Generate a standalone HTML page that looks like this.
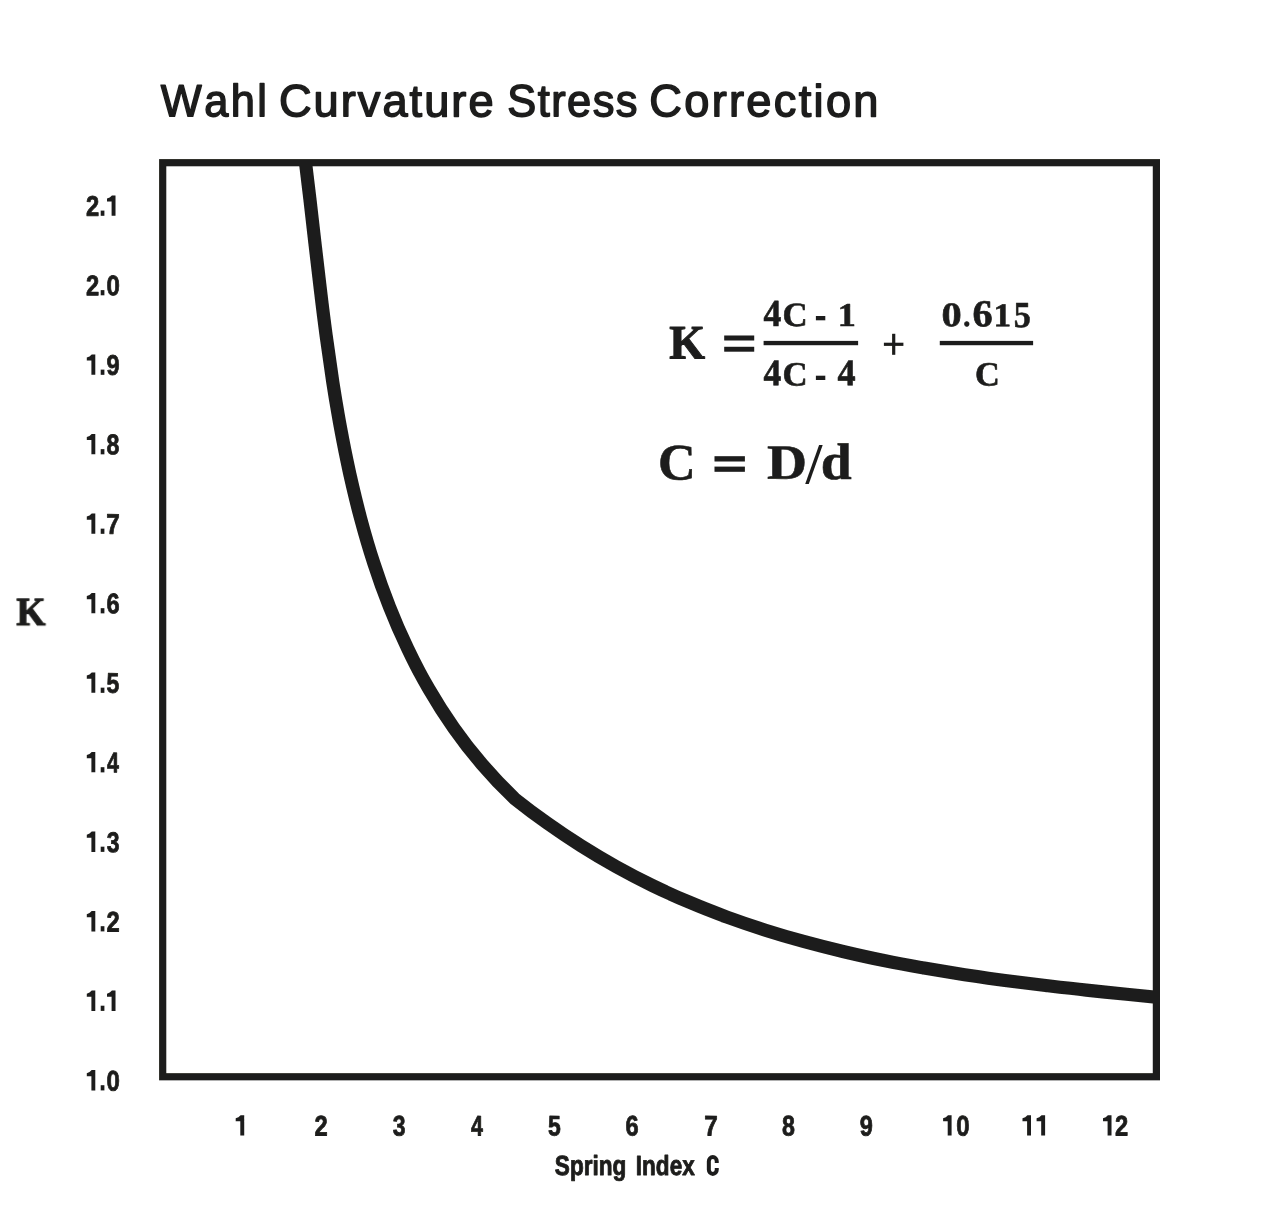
<!DOCTYPE html>
<html lang="en">
<head>
<meta charset="utf-8">
<title>Wahl Curvature Stress Correction</title>
<style>
  html, body { margin: 0; padding: 0; background: #ffffff; }
  body { width: 1280px; height: 1212px; overflow: hidden; font-family: "Liberation Sans", sans-serif; }
  svg { display: block; position: absolute; left: 0; top: 0; will-change: transform; }
  text { fill: #1d1d1b; font-kerning: none; white-space: pre; text-rendering: geometricPrecision; }
</style>
</head>
<body>
<svg width="1280" height="1212" viewBox="0 0 1280 1212">
<rect x="0" y="0" width="1280" height="1212" fill="#ffffff"/>
<defs><filter id="soft" x="0" y="0" width="1280" height="1212" filterUnits="userSpaceOnUse"><feGaussianBlur stdDeviation="0.65"/></filter></defs>
<g filter="url(#soft)">
<text transform="translate(160.73 116.25) matrix(1 0.001 0 1 0 0) scale(0.9600 1)" font-family="'Liberation Sans', sans-serif" font-weight="normal" font-size="45.20" stroke="#1d1d1b" stroke-width="1.50" stroke-linejoin="round" letter-spacing="2.56">Wahl</text>
<text transform="translate(278.95 116.25) matrix(1 0.001 0 1 0 0) scale(1.0000 1)" font-family="'Liberation Sans', sans-serif" font-weight="normal" font-size="45.20" stroke="#1d1d1b" stroke-width="1.50" stroke-linejoin="round" letter-spacing="2.02">Curvature</text>
<text transform="translate(507.35 116.25) matrix(1 0.001 0 1 0 0) scale(0.9600 1)" font-family="'Liberation Sans', sans-serif" font-weight="normal" font-size="45.20" stroke="#1d1d1b" stroke-width="1.50" stroke-linejoin="round" letter-spacing="1.50">Stress</text>
<text transform="translate(649.25 116.25) matrix(1 0.001 0 1 0 0) scale(1.0000 1)" font-family="'Liberation Sans', sans-serif" font-weight="normal" font-size="45.20" stroke="#1d1d1b" stroke-width="1.50" stroke-linejoin="round" letter-spacing="2.31">Correction</text>
<rect x="162.7" y="162.7" width="993.7" height="914.05" fill="none" stroke="#1d1d1b" stroke-width="7.2"/>
<clipPath id="clip"><rect x="160" y="160" width="1000" height="920"/></clipPath>
<path d="M304.4 153.5 C306.2 168.3 308.0 183.3 309.8 198.3 C311.5 213.4 313.2 228.6 315.0 243.8 C316.7 259.1 318.5 274.4 320.4 289.8 C322.2 305.1 324.1 320.5 326.2 336.0 C328.3 351.4 330.5 366.8 332.8 382.2 C335.2 397.6 337.8 413.0 340.6 428.3 C343.4 443.6 346.5 458.8 349.8 474.0 C353.2 489.1 356.8 504.2 360.8 519.1 C364.8 534.0 369.1 548.8 373.9 563.4 C378.6 578.0 383.8 592.5 389.4 606.7 C395.0 621.0 401.1 635.0 407.7 648.7 C414.2 662.5 421.3 676.0 429.0 689.2 C436.6 702.4 444.8 715.3 453.7 727.8 C462.5 740.4 472.0 752.6 482.1 764.4 C492.2 776.2 503.0 787.6 514.5 798.6 L514.5 798.6 C525.2 807.1 536.1 815.3 547.3 823.2 C558.4 831.1 569.7 838.7 581.2 845.9 C592.7 853.2 604.4 860.1 616.3 866.7 C628.2 873.3 640.2 879.6 652.3 885.5 C664.5 891.4 676.8 897.0 689.3 902.2 C701.7 907.5 714.3 912.4 727.0 917.1 C739.7 921.7 752.5 926.1 765.4 930.2 C778.3 934.3 791.3 938.1 804.4 941.7 C817.5 945.3 830.7 948.6 844.0 951.7 C857.2 954.8 870.5 957.8 883.9 960.5 C897.2 963.2 910.7 965.7 924.1 968.1 C937.6 970.4 951.1 972.6 964.6 974.7 C978.1 976.7 991.6 978.7 1005.1 980.5 C1018.7 982.3 1032.2 983.9 1045.7 985.5 C1059.3 987.1 1072.8 988.7 1086.3 990.1 C1099.7 991.6 1113.2 992.9 1126.6 994.3 C1140.0 995.6 1153.4 996.9 1166.7 998.2" fill="none" stroke="#1d1d1b" stroke-width="13.2" stroke-linejoin="round" clip-path="url(#clip)"/>
<text transform="translate(86.11 215.80) matrix(1 0.001 0 1 0 0) scale(0.8376 1)" font-family="'Liberation Sans', sans-serif" font-weight="bold" font-size="28.34" stroke="#1d1d1b" stroke-width="0.80" stroke-linejoin="round">2</text>
<rect x="100.70" y="210.60" width="3.70" height="5.20" fill="#1d1d1b"/>
<path d="M111.90 195.50 L115.50 195.50 L115.50 215.80 L111.60 215.80 L111.60 201.59 L107.00 201.59 L107.00 198.55 Q110.00 197.83 111.90 195.50 Z" fill="#1d1d1b"/>
<text transform="translate(86.11 295.31) matrix(1 0.001 0 1 0 0) scale(0.8376 1)" font-family="'Liberation Sans', sans-serif" font-weight="bold" font-size="28.34" stroke="#1d1d1b" stroke-width="0.80" stroke-linejoin="round">2</text>
<rect x="100.70" y="290.11" width="3.70" height="5.20" fill="#1d1d1b"/>
<text transform="translate(106.39 295.31) matrix(1 0.001 0 1 0 0) scale(0.8474 1)" font-family="'Liberation Sans', sans-serif" font-weight="bold" font-size="28.34" stroke="#1d1d1b" stroke-width="0.80" stroke-linejoin="round">0</text>
<path d="M91.70 354.52 L95.30 354.52 L95.30 374.82 L91.40 374.82 L91.40 360.61 L86.80 360.61 L86.80 357.57 Q89.80 356.85 91.70 354.52 Z" fill="#1d1d1b"/>
<rect x="100.70" y="369.62" width="3.70" height="5.20" fill="#1d1d1b"/>
<text transform="translate(106.51 374.82) matrix(1 0.001 0 1 0 0) scale(0.8328 1)" font-family="'Liberation Sans', sans-serif" font-weight="bold" font-size="28.34" stroke="#1d1d1b" stroke-width="0.80" stroke-linejoin="round">9</text>
<path d="M91.70 434.03 L95.30 434.03 L95.30 454.33 L91.40 454.33 L91.40 440.12 L86.80 440.12 L86.80 437.08 Q89.80 436.36 91.70 434.03 Z" fill="#1d1d1b"/>
<rect x="100.70" y="449.13" width="3.70" height="5.20" fill="#1d1d1b"/>
<text transform="translate(106.59 454.33) matrix(1 0.001 0 1 0 0) scale(0.8180 1)" font-family="'Liberation Sans', sans-serif" font-weight="bold" font-size="28.34" stroke="#1d1d1b" stroke-width="0.80" stroke-linejoin="round">8</text>
<path d="M91.70 513.54 L95.30 513.54 L95.30 533.84 L91.40 533.84 L91.40 519.63 L86.80 519.63 L86.80 516.59 Q89.80 515.87 91.70 513.54 Z" fill="#1d1d1b"/>
<rect x="100.70" y="528.64" width="3.70" height="5.20" fill="#1d1d1b"/>
<text transform="translate(106.30 533.84) matrix(1 0.001 0 1 0 0) scale(0.8582 1)" font-family="'Liberation Sans', sans-serif" font-weight="bold" font-size="28.34" stroke="#1d1d1b" stroke-width="0.80" stroke-linejoin="round">7</text>
<path d="M91.70 593.05 L95.30 593.05 L95.30 613.35 L91.40 613.35 L91.40 599.14 L86.80 599.14 L86.80 596.10 Q89.80 595.38 91.70 593.05 Z" fill="#1d1d1b"/>
<rect x="100.70" y="608.15" width="3.70" height="5.20" fill="#1d1d1b"/>
<text transform="translate(106.47 613.35) matrix(1 0.001 0 1 0 0) scale(0.8344 1)" font-family="'Liberation Sans', sans-serif" font-weight="bold" font-size="28.34" stroke="#1d1d1b" stroke-width="0.80" stroke-linejoin="round">6</text>
<path d="M91.70 672.56 L95.30 672.56 L95.30 692.86 L91.40 692.86 L91.40 678.65 L86.80 678.65 L86.80 675.61 Q89.80 674.89 91.70 672.56 Z" fill="#1d1d1b"/>
<rect x="100.70" y="687.66" width="3.70" height="5.20" fill="#1d1d1b"/>
<text transform="translate(106.62 692.86) matrix(1 0.001 0 1 0 0) scale(0.8120 1)" font-family="'Liberation Sans', sans-serif" font-weight="bold" font-size="28.34" stroke="#1d1d1b" stroke-width="0.80" stroke-linejoin="round">5</text>
<path d="M91.70 752.07 L95.30 752.07 L95.30 772.37 L91.40 772.37 L91.40 758.16 L86.80 758.16 L86.80 755.12 Q89.80 754.40 91.70 752.07 Z" fill="#1d1d1b"/>
<rect x="100.70" y="767.17" width="3.70" height="5.20" fill="#1d1d1b"/>
<text transform="translate(106.98 772.37) matrix(1 0.001 0 1 0 0) scale(0.7571 1)" font-family="'Liberation Sans', sans-serif" font-weight="bold" font-size="28.34" stroke="#1d1d1b" stroke-width="0.80" stroke-linejoin="round">4</text>
<path d="M91.70 831.58 L95.30 831.58 L95.30 851.88 L91.40 851.88 L91.40 837.67 L86.80 837.67 L86.80 834.63 Q89.80 833.91 91.70 831.58 Z" fill="#1d1d1b"/>
<rect x="100.70" y="846.68" width="3.70" height="5.20" fill="#1d1d1b"/>
<text transform="translate(106.80 851.88) matrix(1 0.001 0 1 0 0) scale(0.8127 1)" font-family="'Liberation Sans', sans-serif" font-weight="bold" font-size="28.34" stroke="#1d1d1b" stroke-width="0.80" stroke-linejoin="round">3</text>
<path d="M91.70 911.09 L95.30 911.09 L95.30 931.39 L91.40 931.39 L91.40 917.18 L86.80 917.18 L86.80 914.14 Q89.80 913.42 91.70 911.09 Z" fill="#1d1d1b"/>
<rect x="100.70" y="926.19" width="3.70" height="5.20" fill="#1d1d1b"/>
<text transform="translate(106.51 931.39) matrix(1 0.001 0 1 0 0) scale(0.8376 1)" font-family="'Liberation Sans', sans-serif" font-weight="bold" font-size="28.34" stroke="#1d1d1b" stroke-width="0.80" stroke-linejoin="round">2</text>
<path d="M91.70 990.60 L95.30 990.60 L95.30 1010.90 L91.40 1010.90 L91.40 996.69 L86.80 996.69 L86.80 993.65 Q89.80 992.93 91.70 990.60 Z" fill="#1d1d1b"/>
<rect x="100.70" y="1005.70" width="3.70" height="5.20" fill="#1d1d1b"/>
<path d="M111.90 990.60 L115.50 990.60 L115.50 1010.90 L111.60 1010.90 L111.60 996.69 L107.00 996.69 L107.00 993.65 Q110.00 992.93 111.90 990.60 Z" fill="#1d1d1b"/>
<path d="M91.70 1070.11 L95.30 1070.11 L95.30 1090.41 L91.40 1090.41 L91.40 1076.20 L86.80 1076.20 L86.80 1073.16 Q89.80 1072.44 91.70 1070.11 Z" fill="#1d1d1b"/>
<rect x="100.70" y="1085.21" width="3.70" height="5.20" fill="#1d1d1b"/>
<text transform="translate(106.39 1090.41) matrix(1 0.001 0 1 0 0) scale(0.8474 1)" font-family="'Liberation Sans', sans-serif" font-weight="bold" font-size="28.34" stroke="#1d1d1b" stroke-width="0.80" stroke-linejoin="round">0</text>
<path d="M240.60 1115.20 L244.20 1115.20 L244.20 1135.50 L240.30 1135.50 L240.30 1121.29 L235.70 1121.29 L235.70 1118.25 Q238.70 1117.53 240.60 1115.20 Z" fill="#1d1d1b"/>
<text transform="translate(314.41 1135.50) matrix(1 0.001 0 1 0 0) scale(0.8376 1)" font-family="'Liberation Sans', sans-serif" font-weight="bold" font-size="28.34" stroke="#1d1d1b" stroke-width="0.80" stroke-linejoin="round">2</text>
<text transform="translate(392.70 1135.50) matrix(1 0.001 0 1 0 0) scale(0.8127 1)" font-family="'Liberation Sans', sans-serif" font-weight="bold" font-size="28.34" stroke="#1d1d1b" stroke-width="0.80" stroke-linejoin="round">3</text>
<text transform="translate(470.98 1135.50) matrix(1 0.001 0 1 0 0) scale(0.7571 1)" font-family="'Liberation Sans', sans-serif" font-weight="bold" font-size="28.34" stroke="#1d1d1b" stroke-width="0.80" stroke-linejoin="round">4</text>
<text transform="translate(547.92 1135.50) matrix(1 0.001 0 1 0 0) scale(0.8120 1)" font-family="'Liberation Sans', sans-serif" font-weight="bold" font-size="28.34" stroke="#1d1d1b" stroke-width="0.80" stroke-linejoin="round">5</text>
<text transform="translate(625.47 1135.50) matrix(1 0.001 0 1 0 0) scale(0.8344 1)" font-family="'Liberation Sans', sans-serif" font-weight="bold" font-size="28.34" stroke="#1d1d1b" stroke-width="0.80" stroke-linejoin="round">6</text>
<text transform="translate(704.30 1135.50) matrix(1 0.001 0 1 0 0) scale(0.8582 1)" font-family="'Liberation Sans', sans-serif" font-weight="bold" font-size="28.34" stroke="#1d1d1b" stroke-width="0.80" stroke-linejoin="round">7</text>
<text transform="translate(781.99 1135.50) matrix(1 0.001 0 1 0 0) scale(0.8180 1)" font-family="'Liberation Sans', sans-serif" font-weight="bold" font-size="28.34" stroke="#1d1d1b" stroke-width="0.80" stroke-linejoin="round">8</text>
<text transform="translate(859.81 1135.50) matrix(1 0.001 0 1 0 0) scale(0.8328 1)" font-family="'Liberation Sans', sans-serif" font-weight="bold" font-size="28.34" stroke="#1d1d1b" stroke-width="0.80" stroke-linejoin="round">9</text>
<path d="M948.00 1115.20 L951.60 1115.20 L951.60 1135.50 L947.70 1135.50 L947.70 1121.29 L943.10 1121.29 L943.10 1118.25 Q946.10 1117.53 948.00 1115.20 Z" fill="#1d1d1b"/>
<text transform="translate(956.19 1135.50) matrix(1 0.001 0 1 0 0) scale(0.8474 1)" font-family="'Liberation Sans', sans-serif" font-weight="bold" font-size="28.34" stroke="#1d1d1b" stroke-width="0.80" stroke-linejoin="round">0</text>
<path d="M1027.40 1115.20 L1031.00 1115.20 L1031.00 1135.50 L1027.10 1135.50 L1027.10 1121.29 L1022.50 1121.29 L1022.50 1118.25 Q1025.50 1117.53 1027.40 1115.20 Z" fill="#1d1d1b"/>
<path d="M1041.50 1115.20 L1045.10 1115.20 L1045.10 1135.50 L1041.20 1135.50 L1041.20 1121.29 L1036.60 1121.29 L1036.60 1118.25 Q1039.60 1117.53 1041.50 1115.20 Z" fill="#1d1d1b"/>
<path d="M1107.90 1115.20 L1111.50 1115.20 L1111.50 1135.50 L1107.60 1135.50 L1107.60 1121.29 L1103.00 1121.29 L1103.00 1118.25 Q1106.00 1117.53 1107.90 1115.20 Z" fill="#1d1d1b"/>
<text transform="translate(1115.01 1135.50) matrix(1 0.001 0 1 0 0) scale(0.8376 1)" font-family="'Liberation Sans', sans-serif" font-weight="bold" font-size="28.34" stroke="#1d1d1b" stroke-width="0.80" stroke-linejoin="round">2</text>
<text transform="translate(554.82 1174.95) matrix(1 0.001 0 1 0 0) scale(0.8137 1)" font-family="'Liberation Sans', sans-serif" font-weight="bold" font-size="27.76" stroke="#1d1d1b" stroke-width="0.90" stroke-linejoin="round">Spring</text>
<text transform="translate(635.86 1174.95) matrix(1 0.001 0 1 0 0) scale(0.8115 1)" font-family="'Liberation Sans', sans-serif" font-weight="bold" font-size="27.76" stroke="#1d1d1b" stroke-width="0.90" stroke-linejoin="round">Index</text>
<path d="M716.75 1163.0 V1161.2 A3.95 4.1 0 0 0 708.85 1161.2 V1169.8 A3.95 4.1 0 0 0 716.75 1169.8 V1167.9" fill="none" stroke="#1d1d1b" stroke-width="4.0"/>
<text transform="translate(16.33 625.10) matrix(1 0.001 0 1 0 0) scale(0.9413 1)" font-family="'Liberation Serif', serif" font-weight="bold" font-size="40.01" stroke="#1d1d1b" stroke-width="1.00" stroke-linejoin="round">K</text>
<text transform="translate(669.24 358.45) matrix(1 0.001 0 1 0 0) scale(0.9566 1)" font-family="'Liberation Serif', serif" font-weight="bold" font-size="48.11" stroke="#1d1d1b" stroke-width="1.10" stroke-linejoin="round">K</text>
<rect x="724.20" y="335.50" width="30.00" height="5.00" fill="#1d1d1b"/>
<rect x="724.20" y="346.80" width="30.00" height="4.90" fill="#1d1d1b"/>
<rect x="763.60" y="340.90" width="94.50" height="4.30" fill="#1d1d1b"/>
<rect x="939.80" y="340.90" width="93.30" height="4.30" fill="#1d1d1b"/>
<text transform="translate(763.39 326.00) matrix(1 0.001 0 1 0 0) scale(0.9328 1)" font-family="'Liberation Serif', serif" font-weight="bold" font-size="38.13" stroke="#1d1d1b" stroke-width="0.60" stroke-linejoin="round">4</text>
<text transform="translate(782.51 326.07) matrix(1 0.001 0 1 0 0) scale(1.0256 1)" font-family="'Liberation Serif', serif" font-weight="bold" font-size="33.93" stroke="#1d1d1b" stroke-width="0.60" stroke-linejoin="round">C</text>
<rect x="815.90" y="316.00" width="9.40" height="4.30" fill="#1d1d1b"/>
<text transform="translate(837.63 326.00) matrix(1 0.001 0 1 0 0) scale(1.0926 1)" font-family="'Liberation Serif', serif" font-weight="bold" font-size="33.17" stroke="#1d1d1b" stroke-width="0.60" stroke-linejoin="round">1</text>
<text transform="translate(763.40 385.30) matrix(1 0.001 0 1 0 0) scale(0.9438 1)" font-family="'Liberation Serif', serif" font-weight="bold" font-size="37.68" stroke="#1d1d1b" stroke-width="0.60" stroke-linejoin="round">4</text>
<text transform="translate(782.51 385.47) matrix(1 0.001 0 1 0 0) scale(1.0256 1)" font-family="'Liberation Serif', serif" font-weight="bold" font-size="33.93" stroke="#1d1d1b" stroke-width="0.60" stroke-linejoin="round">C</text>
<rect x="815.90" y="375.70" width="9.40" height="4.30" fill="#1d1d1b"/>
<text transform="translate(837.59 385.30) matrix(1 0.001 0 1 0 0) scale(0.9602 1)" font-family="'Liberation Serif', serif" font-weight="bold" font-size="37.68" stroke="#1d1d1b" stroke-width="0.60" stroke-linejoin="round">4</text>
<rect x="883.90" y="342.70" width="19.50" height="3.20" fill="#1d1d1b"/>
<rect x="892.10" y="333.80" width="3.20" height="21.00" fill="#1d1d1b"/>
<text transform="translate(941.51 326.36) matrix(1 0.001 0 1 0 0) scale(1.1684 1)" font-family="'Liberation Serif', serif" font-weight="bold" font-size="34.53" stroke="#1d1d1b" stroke-width="0.60" stroke-linejoin="round">0</text>
<text transform="translate(963.24 326.08) matrix(1 0.001 0 1 0 0) scale(0.9630 1)" font-family="'Liberation Serif', serif" font-weight="bold" font-size="29.61" stroke="#1d1d1b" stroke-width="0.60" stroke-linejoin="round">.</text>
<text transform="translate(972.54 326.33) matrix(1 0.001 0 1 0 0) scale(1.0619 1)" font-family="'Liberation Serif', serif" font-weight="bold" font-size="38.10" stroke="#1d1d1b" stroke-width="0.60" stroke-linejoin="round">6</text>
<text transform="translate(993.60 326.30) matrix(1 0.001 0 1 0 0) scale(1.0568 1)" font-family="'Liberation Serif', serif" font-weight="bold" font-size="33.33" stroke="#1d1d1b" stroke-width="0.60" stroke-linejoin="round">1</text>
<text transform="translate(1013.71 326.94) matrix(1 0.001 0 1 0 0) scale(0.9292 1)" font-family="'Liberation Serif', serif" font-weight="bold" font-size="36.72" stroke="#1d1d1b" stroke-width="0.60" stroke-linejoin="round">5</text>
<text transform="translate(975.03 385.47) matrix(1 0.001 0 1 0 0) scale(1.0113 1)" font-family="'Liberation Serif', serif" font-weight="bold" font-size="33.93" stroke="#1d1d1b" stroke-width="0.60" stroke-linejoin="round">C</text>
<text transform="translate(658.05 479.40) matrix(1 0.001 0 1 0 0) scale(1.0171 1)" font-family="'Liberation Serif', serif" font-weight="bold" font-size="51.35" stroke="#1d1d1b" stroke-width="0.60" stroke-linejoin="round">C</text>
<rect x="714.50" y="456.20" width="30.40" height="5.30" fill="#1d1d1b"/>
<rect x="714.50" y="466.60" width="30.40" height="5.20" fill="#1d1d1b"/>
<text transform="translate(767.06 478.80) matrix(1 0.001 0 1 0 0) scale(1.1263 1)" font-family="'Liberation Serif', serif" font-weight="bold" font-size="49.18" stroke="#1d1d1b" stroke-width="0.60" stroke-linejoin="round">D</text>
<polygon points="819.1,445.1 822.7,445.1 808.8,484.1 805.2,484.1" fill="#1d1d1b"/>
<text transform="translate(820.77 479.00) matrix(1 0.001 0 1 0 0) scale(1.0781 1)" font-family="'Liberation Serif', serif" font-weight="bold" font-size="51.59" stroke="#1d1d1b" stroke-width="0.60" stroke-linejoin="round">d</text>
</g>
</svg>
</body>
</html>
